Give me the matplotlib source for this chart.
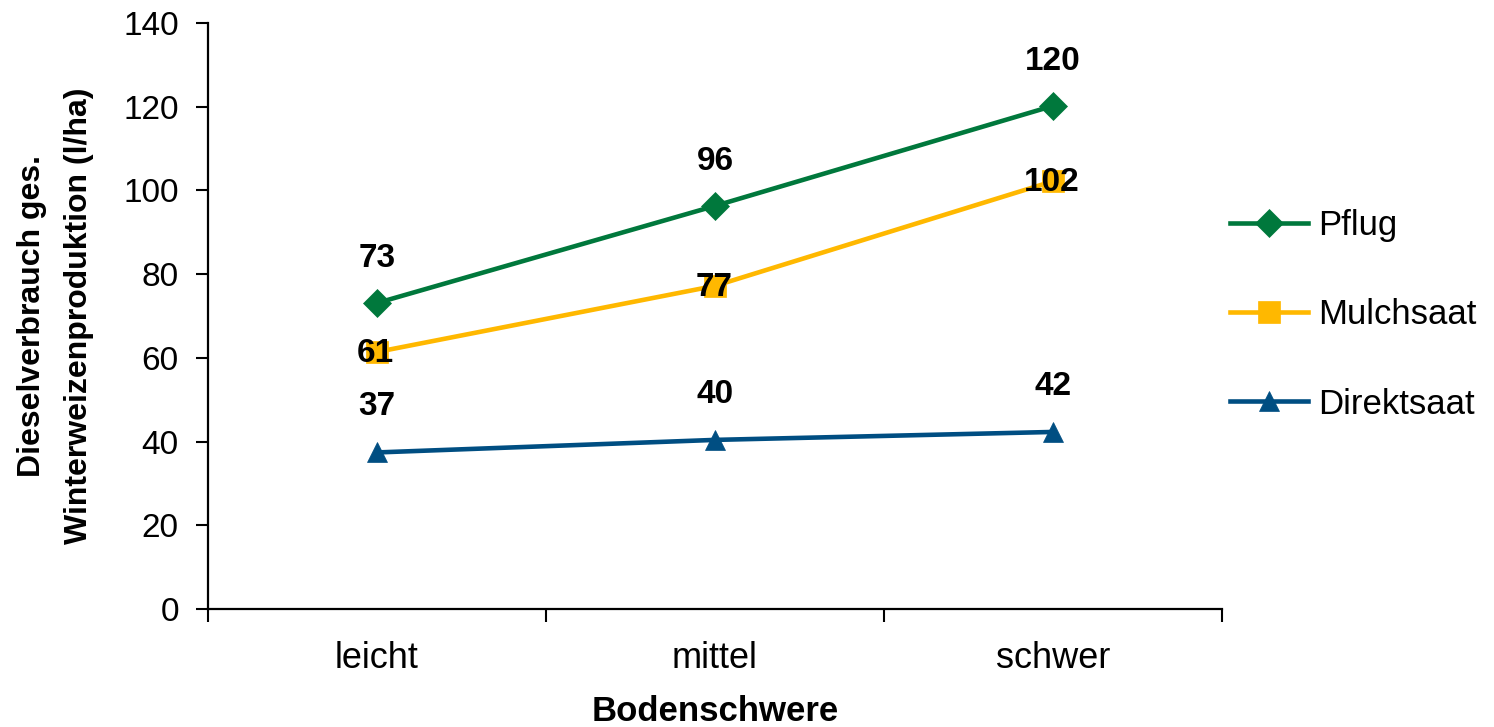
import matplotlib
matplotlib.use("Agg")
import matplotlib.pyplot as plt
from matplotlib.ticker import FixedLocator, NullFormatter

categories = ["leicht", "mittel", "schwer"]
series_names = ["Pflug", "Mulchsaat", "Direktsaat"]
pflug = [73.1, 96.3, 120.2]
mulchsaat = [61.4, 77.2, 102.2]
direktsaat = [37.4, 40.4, 42.3]
yticks = [0, 20, 40, 60, 80, 100, 120, 140]

colors = ["#00783C", "#FFB800", "#004E82"]
markers = ["D", "s", "^"]
msizes = [14.5, 16, 14]

plt.rcParams['font.family'] = ['Liberation Sans', 'DejaVu Sans']

fig = plt.figure(figsize=(14.94, 7.27), dpi=100)
ax = fig.add_axes([0.1392, 0.1623, 0.818 - 0.1392, 0.9684 - 0.1623])

x = list(range(len(categories)))
all_series = [pflug, mulchsaat, direktsaat]
lines = []
for name, vals, c, m, ms in zip(series_names, all_series, colors, markers, msizes):
    ln, = ax.plot(x, vals, color=c, lw=3.3, marker=m, markersize=ms,
                  markeredgecolor=c, markeredgewidth=0.5, label=name, zorder=3)
    lines.append(ln)

# data labels
lab_kw = dict(textcoords="offset points", ha="center", va="center",
              fontsize=24, fontweight="bold", zorder=5)
for xi, v in zip(x, pflug):
    ax.annotate(f"{v:.0f}", (xi, v), xytext=(0, 32), **lab_kw)
for xi, v in zip(x, mulchsaat):
    ax.annotate(f"{v:.0f}", (xi, v), xytext=(-1, -1), **lab_kw)
for xi, v in zip(x, direktsaat):
    ax.annotate(f"{v:.0f}", (xi, v), xytext=(0, 33), **lab_kw)

ax.set_xlim(-0.5, 2.5)
ax.set_ylim(0, 140)
ax.set_yticks(yticks)
ax.tick_params(axis="y", labelsize=24, direction="out", length=9, width=1.5, pad=12)

ax.xaxis.set_major_locator(FixedLocator([-0.5, 0.5, 1.5, 2.5]))
ax.xaxis.set_major_formatter(NullFormatter())
ax.xaxis.set_minor_locator(FixedLocator(x))
ax.set_xticklabels(categories, minor=True)
ax.tick_params(axis="x", which="major", direction="out", length=9, width=1.5)
ax.tick_params(axis="x", which="minor", length=0, labelsize=26, pad=23)

for s in ["top", "right"]:
    ax.spines[s].set_visible(False)
for s in ["left", "bottom"]:
    ax.spines[s].set_linewidth(1.6)
    ax.spines[s].set_color("black")

ax.set_xlabel("Bodenschwere", fontsize=25, fontweight="bold")
ax.xaxis.set_label_coords(0.5, -0.147)
ax.set_ylabel("Dieselverbrauch ges.\nWinterweizenproduktion (l/ha)", fontsize=23,
              fontweight="bold", linespacing=1.75)
ax.yaxis.set_label_coords(-0.112, 0.5)

leg = fig.legend(handles=lines, loc="center left", bbox_to_anchor=(0.8233, 0.567),
                 frameon=False, fontsize=25, handlelength=2.25, labelspacing=1.62,
                 handletextpad=0.3, borderpad=0, borderaxespad=0)

fig.savefig("out.png", dpi=100)
